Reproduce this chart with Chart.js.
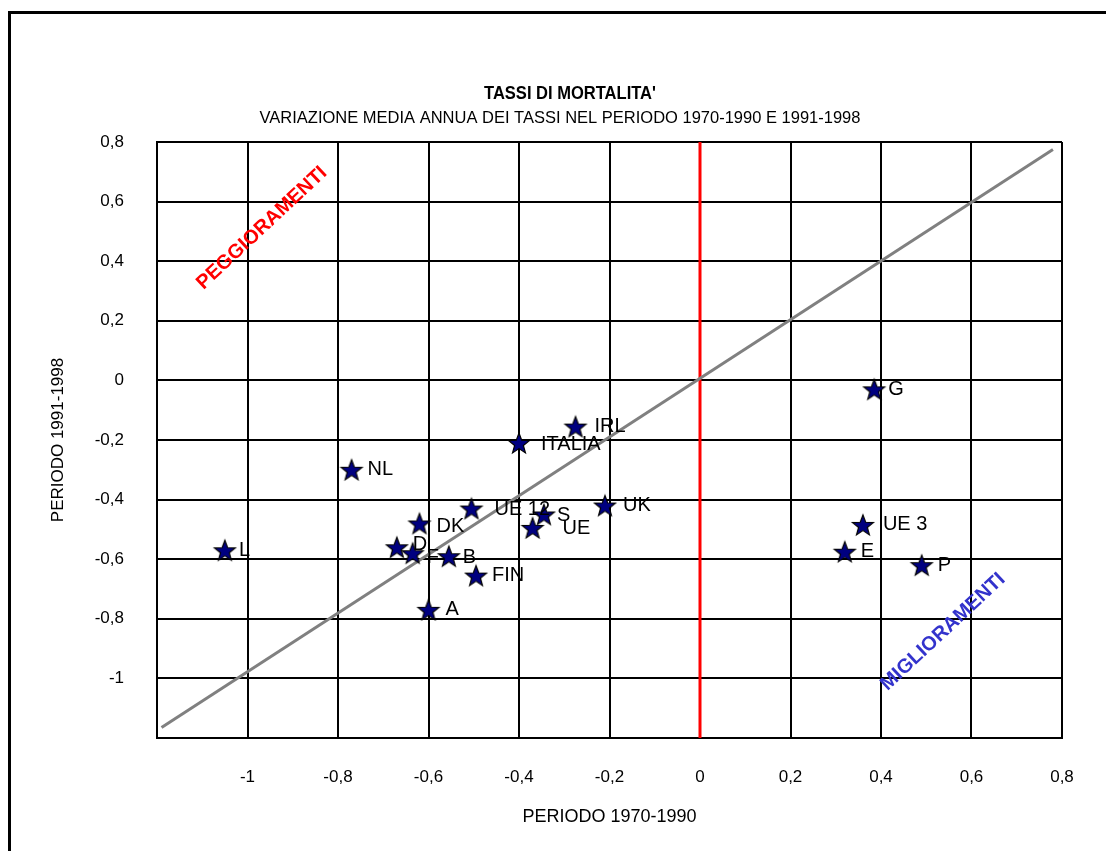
<!DOCTYPE html>
<html lang="it">
<head>
  <meta charset="UTF-8">
  <title>Tassi di mortalita'</title>
  <script src="https://cdn.jsdelivr.net/npm/chart.js"></script>
  <style>
    body {
      margin: 0;
      background: #ffffff;
      overflow: hidden;
      font-family: 'Liberation Sans', Arial, sans-serif;
    }
    .frame {
      position: absolute;
      left: 8px;
      top: 11px;
      width: 1200px;
      height: 1000px;
      border: 3px solid #000;
    }
    #wrap {
      position: absolute;
      left: 0;
      top: 0;
      width: 1106px;
      height: 851px;
    }
  </style>
</head>
<body>
  <div class="frame"></div>
  <div id="wrap"><canvas id="mortChart" width="1106" height="851"></canvas></div>

  <script>
    // paesi e variazioni medie annue
    const countries = ['NL', 'L', 'DK', 'D', 'F', 'B', 'A', 'UE 12', 'FIN', 'IRL', 'ITALIA', 'S', 'UE', 'UK', 'G', 'UE 3', 'E', 'P'];
    const period7090 = [-0.77, -1.05, -0.62, -0.67, -0.635, -0.555, -0.60, -0.505, -0.495, -0.275, -0.40, -0.345, -0.37, -0.21, 0.385, 0.36, 0.32, 0.49];
    const period9198 = [-0.30, -0.57, -0.48, -0.56, -0.58, -0.59, -0.77, -0.43, -0.655, -0.155, -0.21, -0.45, -0.495, -0.42, -0.03, -0.485, -0.575, -0.62];

    // bisettrice e asse dello zero
    const diagX = [-1.19, 0.78];
    const diagY = [-1.165, 0.775];
    const zeroX = [0, 0];
    const zeroY = [-1.2, 0.8];

    const tickValues = [-1.2, -1, -0.8, -0.6, -0.4, -0.2, 0, 0.2, 0.4, 0.6, 0.8];
    const tickLabels = ['', '-1', '-0,8', '-0,6', '-0,4', '-0,2', '0', '0,2', '0,4', '0,6', '0,8'];

    const FONT = "'Liberation Sans', Arial, sans-serif";

    // stella a 5 punte come pointStyle
    function makeStar() {
      const c = document.createElement('canvas');
      c.width = 26; c.height = 26;
      const g = c.getContext('2d');
      g.beginPath();
      for (let i = 0; i < 10; i++) {
        const r = i % 2 === 0 ? 11 : 4.6;
        const a = -Math.PI / 2 + i * Math.PI / 5;
        const px = 13 + r * Math.cos(a), py = 14 + r * Math.sin(a);
        if (i === 0) g.moveTo(px, py); else g.lineTo(px, py);
      }
      g.closePath();
      g.fillStyle = '#000080';
      g.fill();
      g.lineWidth = 1.2;
      g.strokeStyle = '#000';
      g.stroke();
      return c;
    }
    const star = makeStar();

    const pairs = (xs, ys) => xs.map((x, i) => ({ x: x, y: ys[i] }));

    const labelNudge = {
      'L': [14, 0], 'DK': [17, 3], 'D': [16, -3], 'F': [14, 4], 'B': [14, 1],
      'A': [17, 0], 'UE 12': [23, 1], 'ITALIA': [22, 2], 'S': [13, 1],
      'UE': [30, 1], 'G': [14, 0], 'UE 3': [20, 0], 'UK': [18, 0], 'IRL': [19, 0]
    };

    const pointLabels = {
      id: 'pointLabels',
      afterDatasetsDraw(chart) {
        const ctx = chart.ctx;
        const meta = chart.getDatasetMeta(0);
        ctx.save();
        ctx.font = '20px ' + FONT;
        ctx.fillStyle = '#000';
        ctx.textAlign = 'left';
        ctx.textBaseline = 'middle';
        meta.data.forEach((el, i) => {
          const n = labelNudge[countries[i]] || [16, 0];
          ctx.fillText(countries[i], el.x + n[0], el.y + n[1]);
        });

        // scritte diagonali
        const xs = chart.scales.x, ys = chart.scales.y;
        const diag = (text, vx, vy, color) => {
          ctx.save();
          ctx.translate(xs.getPixelForValue(vx), ys.getPixelForValue(vy));
          ctx.rotate(-43 * Math.PI / 180);
          ctx.font = 'bold 20px ' + FONT;
          ctx.fillStyle = color;
          ctx.textAlign = 'center';
          ctx.fillText(text, 0, 0);
          ctx.restore();
        };
        diag('PEGGIORAMENTI', -0.968, 0.511, '#ff0000');
        diag('MIGLIORAMENTI', 0.537, -0.844, '#3333cc');
        ctx.restore();
      }
    };

    const titles = {
      id: 'titles',
      afterDraw(chart) {
        const ctx = chart.ctx;
        ctx.save();
        ctx.fillStyle = '#000';
        ctx.textAlign = 'center';
        ctx.textBaseline = 'middle';
        ctx.save();
        ctx.translate(570, 94);
        ctx.scale(0.87, 1);
        ctx.font = 'bold 19px ' + FONT;
        ctx.fillText("TASSI DI MORTALITA'", 0, 0);
        ctx.restore();
        ctx.font = '16.5px ' + FONT;
        ctx.fillText('VARIAZIONE MEDIA ANNUA DEI TASSI NEL PERIODO 1970-1990 E 1991-1998', 560, 118);
        ctx.restore();
      }
    };

    const ctx = document.getElementById('mortChart').getContext('2d');
    new Chart(ctx, {
      type: 'scatter',
      data: {
        datasets: [
          {
            label: 'Paesi',
            data: pairs(period7090, period9198),
            pointStyle: star,
            pointRadius: 11,
            pointHoverRadius: 11
          },
          {
            label: 'Bisettrice',
            type: 'line',
            data: pairs(diagX, diagY),
            borderColor: '#808080',
            borderWidth: 3,
            pointRadius: 0,
            fill: false
          },
          {
            label: 'Zero',
            type: 'line',
            data: pairs(zeroX, zeroY),
            borderColor: '#ff0000',
            borderWidth: 3,
            pointRadius: 0,
            fill: false
          }
        ]
      },
      options: {
        responsive: false,
        animation: false,
        layout: { padding: { left: 20, right: 44, top: 142, bottom: 0 } },
        plugins: {
          legend: { display: false },
          tooltip: { enabled: false }
        },
        scales: {
          x: {
            type: 'linear',
            min: -1.2,
            max: 0.8,
            afterBuildTicks: axis => { axis.ticks = tickValues.map(v => ({ value: v })); },
            afterFit: axis => { axis.height = 113; },
            grid: { color: '#000', lineWidth: 2, drawTicks: false },
            border: { color: '#000', width: 2 },
            ticks: {
              padding: 29,
              color: '#000',
              font: { family: FONT, size: 17 },
              maxRotation: 0,
              autoSkip: false,
              callback: (v, i) => tickLabels[i]
            },
            title: {
              display: true,
              text: 'PERIODO 1970-1990',
              color: '#000',
              font: { family: FONT, size: 18 },
              padding: { top: 0, bottom: 23 }
            }
          },
          y: {
            type: 'linear',
            min: -1.2,
            max: 0.8,
            afterBuildTicks: axis => { axis.ticks = tickValues.map(v => ({ value: v })); },
            afterFit: axis => { axis.width = 137; },
            grid: { color: '#000', lineWidth: 2, drawTicks: false },
            border: { color: '#000', width: 2 },
            ticks: {
              padding: 33,
              color: '#000',
              font: { family: FONT, size: 17 },
              autoSkip: false,
              callback: (v, i) => tickLabels[i]
            },
            title: {
              display: true,
              text: 'PERIODO 1991-1998',
              color: '#000',
              font: { family: FONT, size: 17 },
              padding: { top: 28, bottom: 0 }
            }
          }
        }
      },
      plugins: [pointLabels, titles]
    });
  </script>
</body>
</html>
